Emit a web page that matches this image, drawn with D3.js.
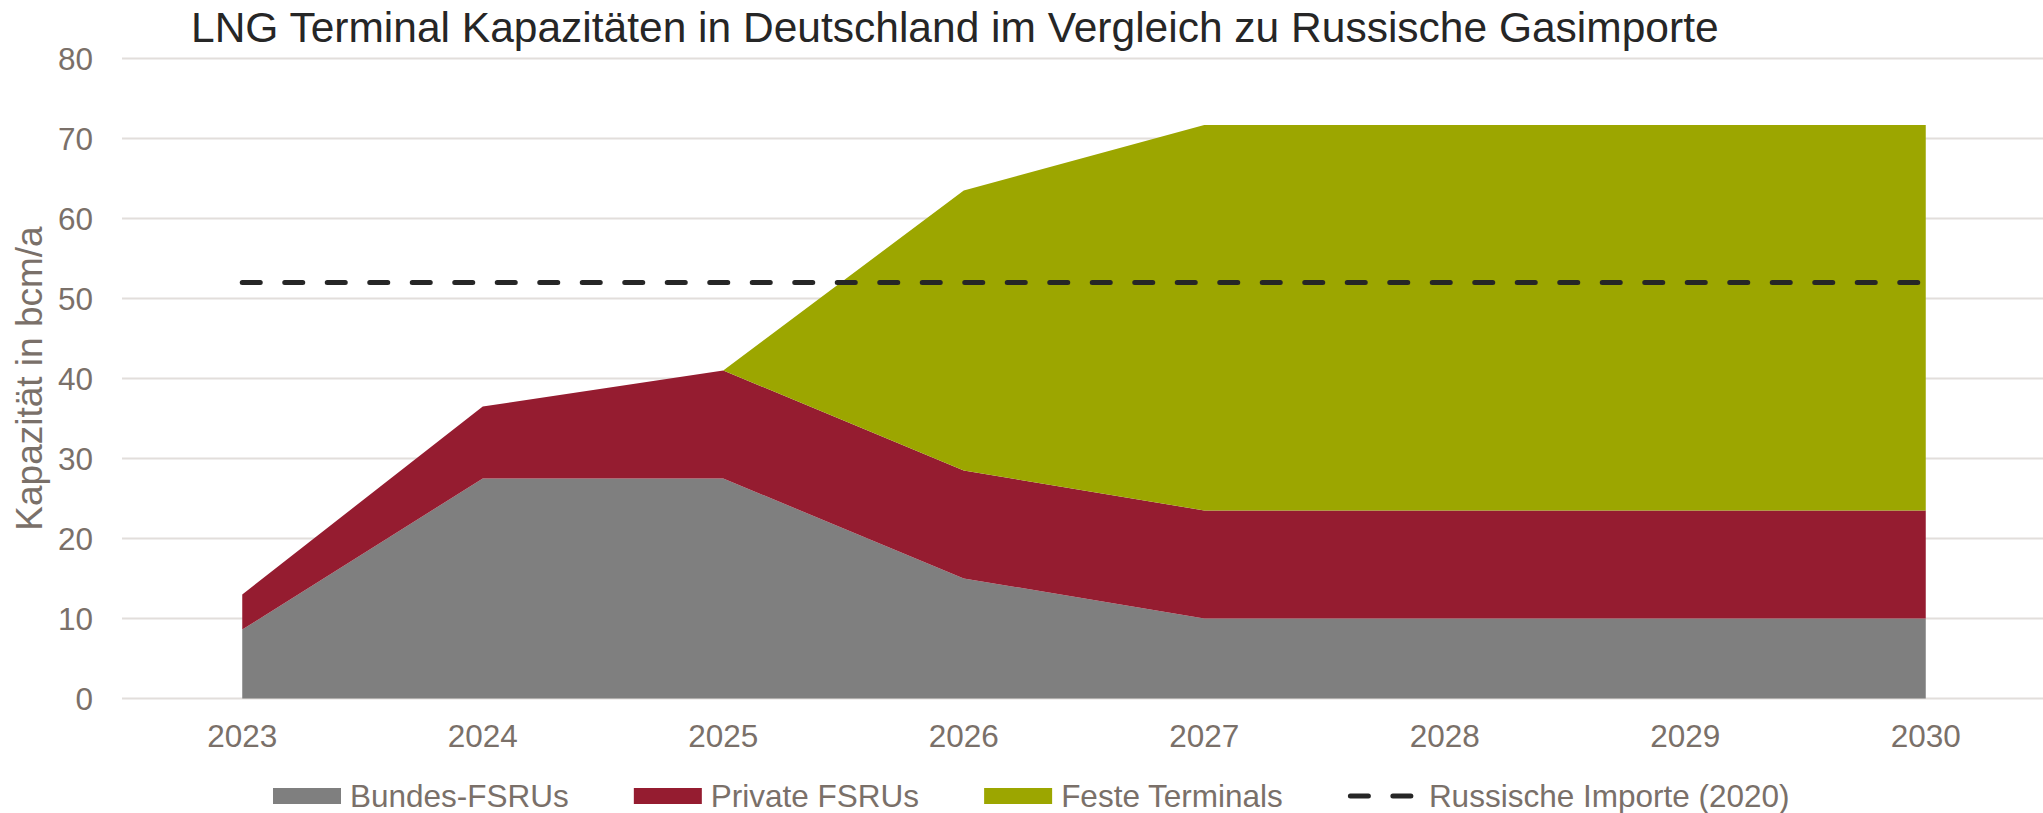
<!DOCTYPE html>
<html lang="de">
<head>
    <meta charset="UTF-8">
    <title>LNG Terminal Kapazitäten</title>
    <script src="https://d3js.org/d3.v7.min.js"></script>
    <style>
        body { margin: 0; background: #fff; }
        svg { display: block; font-family: "Liberation Sans", Arial, sans-serif; }
        .grid line { stroke: #e2dedb; stroke-width: 2; }
        .tick-label { fill: #7a7069; font-size: 31.5px; }
        .legend-label { fill: #7a7069; font-size: 31.5px; }
        .title { fill: #262626; font-size: 42.5px; }
        .axis-title { fill: #7a7069; font-size: 37px; }
    </style>
</head>
<body>
    <svg width="2043" height="813"></svg>
    <script>
        // data (bcm/a)
        const years = ["2023", "2024", "2025", "2026", "2027", "2028", "2029", "2030"];
        const bundesFSRUs = [8.6, 27.5, 27.5, 15, 10, 10, 10, 10];
        const privateFSRUs = [4.4, 9, 13.5, 13.5, 13.5, 13.5, 13.5, 13.5];
        const festeTerminals = [0, 0, 0, 35, 48.2, 48.2, 48.2, 48.2];
        const russischeImporte = 52;
        const yTicks = [0, 10, 20, 30, 40, 50, 60, 70, 80];

        const seriesNames = ["Bundes-FSRUs", "Private FSRUs", "Feste Terminals"];
        const colors = ["#7f7f7f", "#951c30", "#9ca600"];
        const lineName = "Russische Importe (2020)";

        const svg = d3.select("svg");

        const x = d3.scaleBand().domain(years).range([122, 2046]);
        const y = d3.scaleLinear().domain([0, 80]).range([698.4, 58.6]);
        const cx = d => x(d) + x.bandwidth() / 2;

        // table for the stack
        const table = years.map((yr, i) => ({
            year: yr,
            "Bundes-FSRUs": bundesFSRUs[i],
            "Private FSRUs": privateFSRUs[i],
            "Feste Terminals": festeTerminals[i]
        }));
        const stacked = d3.stack().keys(seriesNames)(table);

        // gridlines
        svg.append("g").attr("class", "grid")
            .selectAll("line").data(yTicks).join("line")
            .attr("x1", 122).attr("x2", 2043)
            .attr("y1", d => y(d)).attr("y2", d => y(d));

        // y tick labels
        svg.append("g").selectAll("text").data(yTicks).join("text")
            .attr("class", "tick-label")
            .attr("x", 93).attr("y", d => y(d))
            .attr("dy", "0.36em")
            .attr("text-anchor", "end")
            .text(d => d);

        // areas
        const area = d3.area()
            .x(d => cx(d.data.year))
            .y0(d => y(d[0]))
            .y1(d => y(d[1]));

        svg.append("g").selectAll("path").data(stacked).join("path")
            .attr("fill", (d, i) => colors[i])
            .attr("d", area);

        // dashed reference line
        svg.append("line")
            .attr("x1", cx(years[0])).attr("x2", cx(years[years.length - 1]))
            .attr("y1", y(russischeImporte)).attr("y2", y(russischeImporte))
            .attr("stroke", "#262626")
            .attr("stroke-width", 5)
            .attr("stroke-linecap", "round")
            .attr("stroke-dasharray", "18,24.5");

        // x tick labels
        svg.append("g").selectAll("text").data(years).join("text")
            .attr("class", "tick-label")
            .attr("x", d => cx(d)).attr("y", 747)
            .attr("text-anchor", "middle")
            .text(d => d);

        // title
        svg.append("text").attr("class", "title")
            .attr("x", 191).attr("y", 42)
            .text("LNG Terminal Kapazitäten in Deutschland im Vergleich zu Russische Gasimporte");

        // y axis title
        svg.append("text").attr("class", "axis-title")
            .attr("transform", `translate(42,${(698.4 + 58.6) / 2}) rotate(-90)`)
            .attr("text-anchor", "middle")
            .text("Kapazität in bcm/a");

        // legend
        const legend = svg.append("g");
        let lx = 273;
        const ly = 796;
        seriesNames.forEach((name, i) => {
            legend.append("rect")
                .attr("x", lx).attr("y", ly - 8)
                .attr("width", 68).attr("height", 16)
                .attr("fill", colors[i]);
            const t = legend.append("text").attr("class", "legend-label")
                .attr("x", lx + 77).attr("y", ly).attr("dy", "0.36em")
                .text(name);
            lx += 77 + t.node().getComputedTextLength() + 65;
        });
        legend.append("line")
            .attr("x1", lx + 2.5).attr("x2", lx + 66)
            .attr("y1", ly).attr("y2", ly)
            .attr("stroke", "#262626")
            .attr("stroke-width", 5)
            .attr("stroke-linecap", "round")
            .attr("stroke-dasharray", "18,24.5");
        legend.append("text").attr("class", "legend-label")
            .attr("x", lx + 81).attr("y", ly).attr("dy", "0.36em")
            .text(lineName);
    </script>
</body>
</html>
